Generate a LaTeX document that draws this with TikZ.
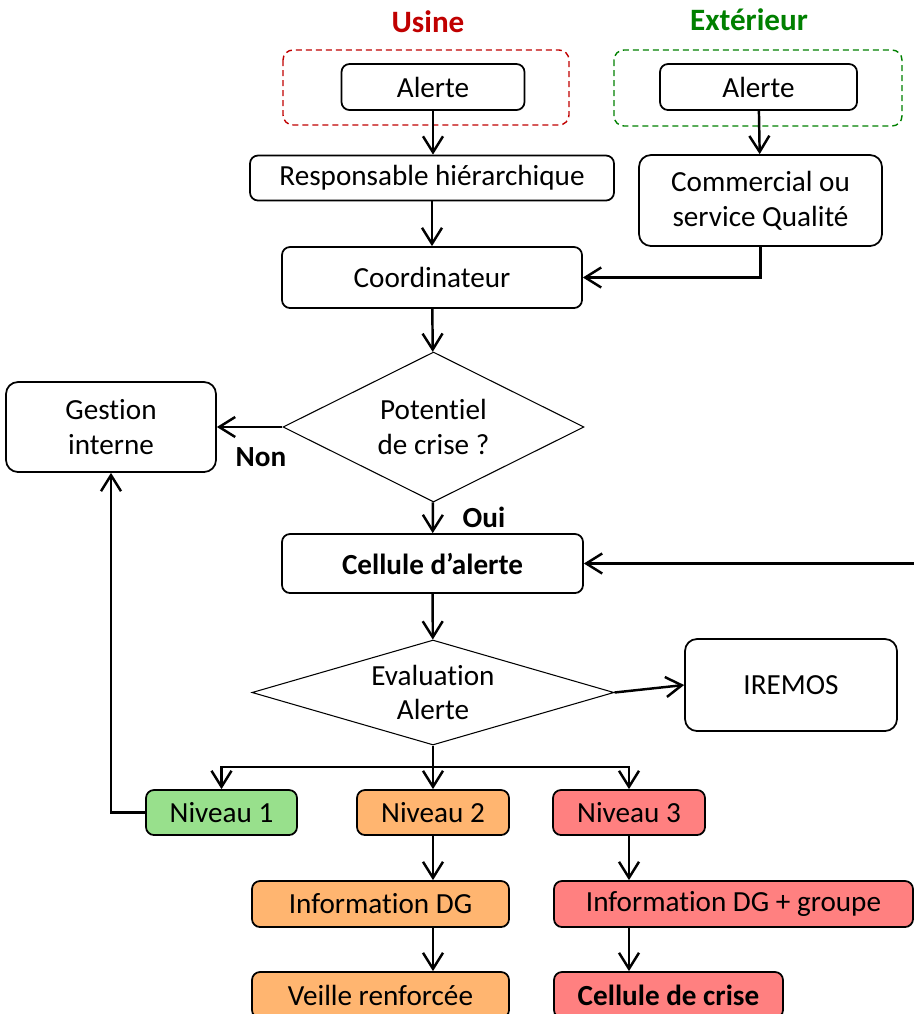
\documentclass[tikz,border=0pt]{standalone}
\usepackage{fontspec}
\setmainfont[Ligatures=NoCommon]{Carlito}
\usetikzlibrary{arrows.meta, shapes.geometric, positioning}

\definecolor{usinered}{RGB}{192,0,0}
\definecolor{extgreen}{RGB}{0,128,0}
\definecolor{niv1}{RGB}{152,224,140}
\definecolor{niv2}{RGB}{255,181,112}
\definecolor{niv3}{RGB}{255,128,128}
\newcommand{\diagfont}{\fontsize{16.6}{19.7}\selectfont}

\begin{document}
\begin{tikzpicture}[scale=1, font=\diagfont]
 \tikzstyle{bnode}=[rectangle, draw, rounded corners=0.16cm, line width=1pt, align=center, inner sep=0pt, minimum height=0.92cm]
 \tikzstyle{dnode}=[diamond, draw, line width=0.6pt, align=center, inner sep=0pt, aspect=2]
 \tikzstyle{zone}=[rounded corners=0.2cm, line width=0.8pt, dash pattern=on 0.12cm off 0.08cm]
 \tikzstyle{title}=[font=\fontsize{17.7}{21}\selectfont\bfseries]
 \tikzstyle{lbl}=[font=\diagfont\bfseries]
 \tikzstyle{line}=[draw, line width=1.4pt, -{Straight Barb[length=0.32cm, width=0.4cm]}]

 \useasboundingbox (0,0) rectangle (18.28,-20.28);
 \clip (0,0) rectangle (18.28,-20.28);

 % origine de l'alerte
 \draw (8.56,-0.44) node[title, text=usinered] (tu) {Usine};
 \draw (14.98,-0.40) node[title, text=extgreen] (te) {Extérieur};
 \draw[zone, usinered] (5.66,-1.0) rectangle (11.38,-2.5);
 \draw[zone, extgreen] (12.28,-1.0) rectangle (18.04,-2.52);
 \draw (8.66,-1.74) node[bnode, minimum width=3.66cm] (au) {Alerte};
 \draw (15.17,-1.74) node[bnode, minimum width=3.94cm] (ae) {Alerte};
 \draw (8.64,-3.56) node[bnode, minimum width=7.28cm, minimum height=0.9cm] (resp) {Responsable hiérarchique};
 \draw (15.21,-4.01) node[bnode, minimum width=4.86cm, minimum height=1.82cm, rounded corners=0.24cm] (com) {Commercial ou\\service Qualité};
 \draw (8.64,-5.55) node[bnode, minimum width=6.0cm, minimum height=1.22cm] (coord) {Coordinateur};

 % premier tri
 \draw (8.67,-8.54) node[dnode, minimum width=6.02cm, minimum height=3.0cm] (pot) {Potentiel\\de crise ?};
 \draw (2.22,-8.54) node[bnode, minimum width=4.2cm, minimum height=1.8cm, rounded corners=0.24cm] (gest) {Gestion\\interne};
 \draw (5.22,-9.14) node[lbl] (non) {Non};
 \draw (9.68,-10.34) node[lbl] (oui) {Oui};
 \draw (8.65,-11.27) node[bnode, minimum width=6.02cm, minimum height=1.18cm, font=\diagfont\bfseries] (cell) {Cellule d’alerte};
 \coordinate (ret) at (18.28,-11.27);

 % evaluation
 \draw (8.66,-13.85) node[dnode, aspect=3, minimum width=7.24cm, minimum height=2.1cm] (eval) {Evaluation\\Alerte};
 \draw (15.82,-13.70) node[bnode, minimum width=4.24cm, minimum height=1.84cm, rounded corners=0.24cm] (irem) {IREMOS};
 \coordinate (split) at (8.66,-15.34);
 \draw (4.43,-16.25) node[bnode, fill=niv1, minimum width=3.02cm, minimum height=0.9cm] (n1) {Niveau 1};
 \draw (8.66,-16.25) node[bnode, fill=niv2, minimum width=3.04cm, minimum height=0.9cm] (n2) {Niveau 2};
 \draw (12.58,-16.25) node[bnode, fill=niv3, minimum width=3.04cm, minimum height=0.9cm] (n3) {Niveau 3};
 \draw (7.61,-18.08) node[bnode, fill=niv2, minimum width=5.14cm] (idg) {Information DG};
 \draw (14.67,-18.08) node[bnode, fill=niv3, minimum width=7.18cm] (idgg) {Information DG + groupe};
 \draw (7.61,-19.90) node[bnode, fill=niv2, minimum width=5.14cm] (veil) {Veille renforcée};
 \draw (13.37,-19.90) node[bnode, fill=niv3, minimum width=4.58cm, font=\diagfont\bfseries] (crise) {Cellule de crise};

 \path [line] (au.south) -- (au.south |- resp.north);
 \path [line] (resp) -- (coord);
 \path [line] (ae) -- (com);
 \path [line] (com.south) |- (coord.east);
 \path [line] (coord) -- (pot);
 \path [line] (pot) -- (gest);
 \path [line] (pot) -- (cell);
 \path [line] (ret) -- (cell);
 \path [line] (cell) -- (eval);
 \path [line] (eval.east) -- (irem.west);
 \path [line] (eval.south) -- (split) -| (n1);
 \path [line] (split) -- (n2);
 \path [line] (split) -| (n3);
 \path [line] (n1.west) -| (gest.south);
 \path [line] (n2) -- (n2 |- idg.north);
 \path [line] (n3) -- (n3 |- idgg.north);
 \path [line] (n2 |- idg.south) -- (n2 |- veil.north);
 \path [line] (n3 |- idgg.south) -- (n3 |- crise.north);
\end{tikzpicture}
\end{document}
